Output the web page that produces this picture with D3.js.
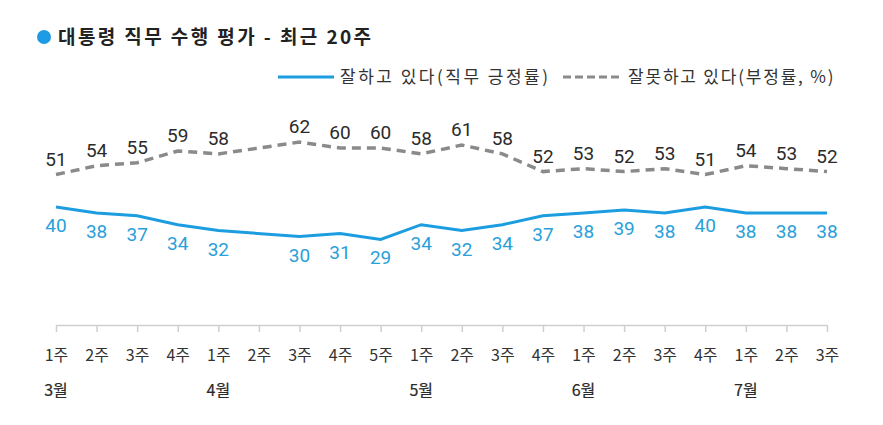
<!DOCTYPE html>
<html><head><meta charset="utf-8">
<script src="https://cdn.jsdelivr.net/npm/d3@7"></script>
<style>
html,body{margin:0;padding:0;background:#fff;}
svg{display:block;font-family:"Noto Sans CJK KR","Noto Sans",sans-serif;}
</style></head>
<body>
<svg id="chart" width="883" height="425"></svg>
<script>
const weekLabels = ["1주","2주","3주","4주","1주","2주","3주","4주","5주","1주","2주","3주","4주","1주","2주","3주","4주","1주","2주","3주"];
const monthOf = ["3월","3월","3월","3월","4월","4월","4월","4월","4월","5월","5월","5월","5월","6월","6월","6월","6월","7월","7월","7월"];
const positive = [40,38,37,34,32,null,30,31,29,34,32,34,37,38,39,38,40,38,38,38];
const negative = [51,54,55,59,58,null,62,60,60,58,61,58,52,53,52,53,51,54,53,52];
const title = "대통령 직무 수행 평가 - 최근 20주";
const legendPos = "잘하고 있다(직무 긍정률)";
const legendNeg = "잘못하고 있다(부정률, %)";

const blue = "#1c9de0", blueText = "#2a9fda", gray = "#8a8a8a", dark = "#2b2b2b";
const svg = d3.select("#chart");

const x = d3.scalePoint().domain(d3.range(weekLabels.length)).range([56, 827]);
const y = d3.scaleLinear().domain([0, 100]).range([325, 30]);

// title
svg.append("circle").attr("cx", 44).attr("cy", 37).attr("r", 7).attr("fill", "#1e9be4");
svg.append("text").attr("x", 58).attr("y", 44).attr("font-size", 19).attr("font-weight", "bold")
  .attr("fill", "#222").attr("letter-spacing", 2.4).text(title);

// legend
svg.append("line").attr("x1", 278).attr("x2", 334).attr("y1", 77).attr("y2", 77)
  .attr("stroke", blue).attr("stroke-width", 3);
svg.append("text").attr("x", 340).attr("y", 83).attr("font-size", 17).attr("fill", "#333")
  .attr("letter-spacing", 2.5).text(legendPos);
svg.append("line").attr("x1", 563).attr("x2", 622).attr("y1", 77).attr("y2", 77)
  .attr("stroke", gray).attr("stroke-width", 3).attr("stroke-dasharray", "8,4");
svg.append("text").attr("x", 628).attr("y", 83).attr("font-size", 17).attr("fill", "#333")
  .attr("letter-spacing", 1.8).text(legendNeg);

// axis
const axis = svg.append("g").attr("transform", "translate(0,325)")
  .call(d3.axisBottom(x).tickSize(7).tickSizeOuter(0).tickFormat(i => weekLabels[i]));
axis.select(".domain").attr("stroke", "#cfcfcf").attr("stroke-width", 1.5);
axis.selectAll(".tick line").attr("stroke", "#cfcfcf").attr("stroke-width", 1.5);
axis.selectAll(".tick text").attr("y", 36).attr("dy", null).attr("font-size", 16)
  .attr("fill", "#333").attr("font-family", "\"Noto Sans CJK KR\",sans-serif");

// month labels
svg.append("g").selectAll("text")
  .data(d3.range(monthOf.length).filter(i => i === 0 || monthOf[i] !== monthOf[i-1]))
  .join("text")
  .attr("x", i => x(i)).attr("y", 396).attr("text-anchor", "middle")
  .attr("font-size", 16).attr("fill", "#2a2a2a").attr("stroke", "#2a2a2a").attr("stroke-width", 0.2)
  .text(i => monthOf[i]);

const lineGen = d3.line().x(d => x(d.i)).y(d => y(d.v));
const posData = positive.map((v, i) => ({i, v})).filter(d => d.v != null);
const negData = negative.map((v, i) => ({i, v})).filter(d => d.v != null);

svg.append("path").datum(negData).attr("d", lineGen).attr("fill", "none")
  .attr("stroke", gray).attr("stroke-width", 3.5).attr("stroke-dasharray", "9,6");
svg.append("path").datum(posData).attr("d", lineGen).attr("fill", "none")
  .attr("stroke", blue).attr("stroke-width", 3);

svg.append("g").selectAll("text").data(negData).join("text")
  .attr("x", d => x(d.i)).attr("y", d => y(d.v) - 9).attr("text-anchor", "middle")
  .attr("font-family", "Roboto, sans-serif").attr("font-size", 19).attr("fill", dark)
  .text(d => d.v);
svg.append("g").selectAll("text").data(posData).join("text")
  .attr("x", d => x(d.i)).attr("y", d => y(d.v) + 25).attr("text-anchor", "middle")
  .attr("font-family", "Roboto, sans-serif").attr("font-size", 19).attr("fill", blueText)
  .text(d => d.v);
</script>
</body></html>
